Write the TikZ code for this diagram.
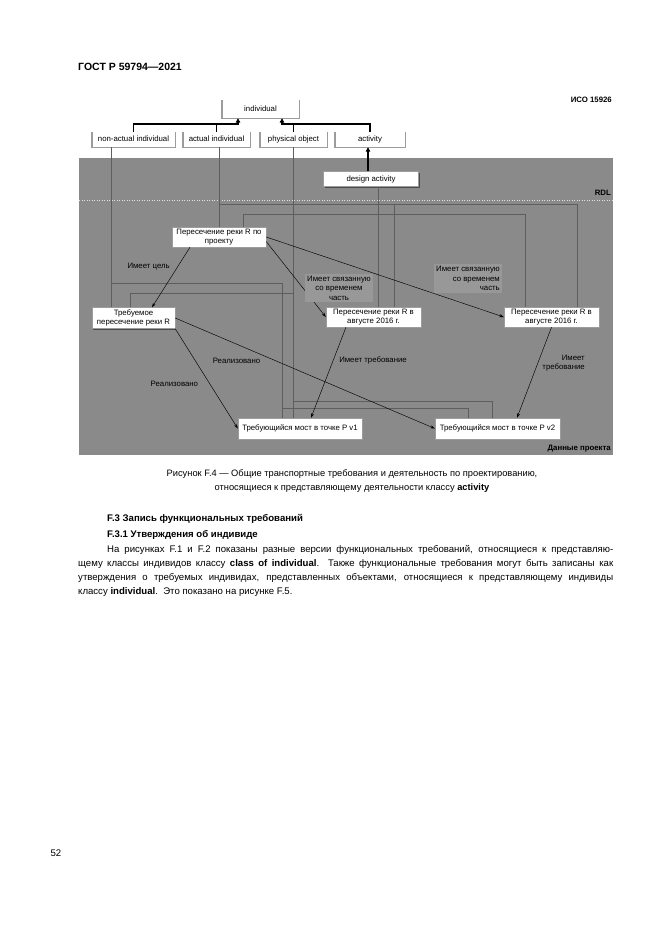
\documentclass[tikz,border=0pt]{standalone}
\usepackage{fontspec}
\setmainfont{Liberation Sans}
\usepackage{xcolor}
\usetikzlibrary{arrows.meta,shadows}

\definecolor{rdlgray}{HTML}{8A8A8A}
\definecolor{linegray}{HTML}{5E5E5E}
\definecolor{edgegray}{HTML}{9C9C9C}
\definecolor{lblgray}{HTML}{989898}

\newcommand{\diagfont}{\fontsize{7.8}{9.6}\selectfont}
\newcommand{\pagefont}{\fontsize{9.6}{14.2}\selectfont}

\begin{document}
\begin{tikzpicture}[x=1pt,y=-1pt,
	rdlclass/.style={fill=white, minimum height=15pt, text height=5.8pt, text depth=1.7pt, font=\diagfont},
	datanode/.style={fill=white, draw=edgegray, line width=0.4pt, align=center, minimum height=20pt, font=\diagfont,
		drop shadow={shadow xshift=1.2pt, shadow yshift=-1.2pt, fill=black, opacity=0.45}},
	topedge/.style={draw=edgegray, line width=1.4pt},
	clsline/.style={draw=linegray, line width=0.45pt},
	sepline/.style={draw=white!75!rdlgray, line width=0.5pt, dotted},
	isa/.style={-{Triangle[length=4.5pt,width=4.5pt]}, line width=1.1pt, black},
	reln/.style={-{Stealth[length=4.5pt,width=3pt]}, line width=0.45pt, black},
	lbl/.style={font=\diagfont, inner sep=1pt}]
	\tikzstyle{every node}+=[inner sep=1pt]
	\useasboundingbox (0,0) rectangle (661,935);
	\fill [white] (0,0) rectangle (661,935);
	\fill [rdlgray] (79,158) rectangle (613,455);
	\draw [sepline] (79,200) -- (613,200);
	% RDL classes
	\node [rdlclass, minimum width=77pt, minimum height=18pt] (individual) at (260.5,109) {individual};
	\node [rdlclass, minimum width=83pt] (nonactual) at (133.5,139.5) {non-actual individual};
	\node [rdlclass, minimum width=67pt] (actual) at (216.5,139.5) {actual individual};
	\node [rdlclass, minimum width=67pt] (physobj) at (293.5,139.5) {physical object};
	\node [rdlclass, minimum width=70pt] (activity) at (370,139.5) {activity};
	\foreach \n in {individual,nonactual,actual,physobj,activity}
		\draw [topedge] (\n.north west) -- (\n.south west) -- (\n.south east) -- (\n.north east);
	\node [datanode, minimum width=95pt, minimum height=15pt] (design) at (371,179) {design activity};
	% project data
	\node [datanode, minimum width=94pt] (proj) at (219,237) {Пересечение реки R по\\проекту};
	\node [datanode, minimum width=83pt, minimum height=21pt] (treb) at (133.5,318) {Требуемое\\пересечение реки R};
	\node [datanode, minimum width=95pt] (augA) at (373.5,317) {Пересечение реки R в\\августе 2016 г.};
	\node [datanode, minimum width=95pt] (augB) at (551.5,317) {Пересечение реки R в\\августе 2016 г.};
	\node [datanode, minimum width=124pt, minimum height=21pt] (bridgeA) at (300,428.5) {Требующийся мост в точке Р v1};
	\node [datanode, minimum width=125pt, minimum height=21pt] (bridgeB) at (497.5,428.5) {Требующийся мост в точке Р v2};
	% specialisation
	\coordinate (jl) at (238,124);
	\coordinate (jr) at (282,124);
	\draw [isa] (nonactual.north) |- (jl) -- (jl |- individual.south);
	\draw [black, line width=1.1pt] (actual.north) -- (actual.north |- jl);
	\draw [isa] (activity.north) |- (jr) -- (jr |- individual.south);
	\draw [black, line width=1.1pt] (physobj.north) -- (physobj.north |- jr);
	\draw [isa] ([xshift=-3pt]design.north) -- ([xshift=-3pt]design.north |- activity.south);
	% classification
	\coordinate (bendB) at (111,283);
	\coordinate (bendD) at (219,204);
	\coordinate (bendG) at (293.5,293);
	\coordinate (bendH) at (293.5,401.7);
	\coordinate (bendI) at (282.5,408);
	\coordinate (bendK) at (525.5,214);
	\draw [clsline] ([xshift=-22.5pt]nonactual.south) -- ([xshift=-22.5pt]nonactual.south |- treb.north);
	\draw [clsline] (bendB) -| ([xshift=-17.5pt]bridgeA.north);
	\draw [clsline] (proj.north |- actual.south) -- (proj.north);
	\draw [clsline] (bendD) -| ([xshift=25.5pt]augB.north);
	\draw [clsline] ([xshift=21pt]augA.north |- bendD) -- ([xshift=21pt]augA.north);
	\draw [clsline] (physobj.south) -- (physobj.south |- bridgeA.north);
	\draw [clsline] ([xshift=-3pt]treb.north) |- (bendG);
	\draw [clsline] (bendH) -| ([xshift=-5.5pt]bridgeB.north);
	\draw [clsline] (bendI) -| ([xshift=-29.5pt]bridgeB.north);
	\draw [clsline] ([xshift=7pt]design.south) -- ([xshift=7pt]design.south |- augA.north);
	\draw [clsline] ([xshift=24.5pt]proj.north) |- (bendK) -- (bendK |- augB.north);
	% relations
	\draw [reln] ([xshift=-29pt]proj.south) -- ([xshift=18.5pt]treb.north);
	\draw [reln] ([yshift=-4.5pt]proj.east) -- (augA.west);
	\draw [reln] (proj.east) -- (augB.west);
	\draw [reln] (treb.south east) -- (bridgeA.west);
	\draw [reln] (treb.east) -- (bridgeB.west);
	\draw [reln] ([xshift=-27.5pt]augA.south) -- ([xshift=11pt]bridgeA.north);
	\draw [reln] (augB.south) -- ([xshift=19.5pt]bridgeB.north);
	\node [lbl] (goal) at (148.6,266.7) {Имеет цель};
	\node [lbl, fill=lblgray, align=center, inner sep=2pt] (tpartA) at (339,288) {Имеет связанную\\со временем\\часть};
	\node [lbl, fill=lblgray, align=right, inner sep=2pt, anchor=east] (tpartB) at (502,278.5) {Имеет связанную\\со временем\\часть};
	\node [lbl] (realA) at (236.5,360.7) {Реализовано};
	\node [lbl] (realB) at (174.4,384) {Реализовано};
	\node [lbl] (reqA) at (373,360) {Имеет требование};
	\node [lbl, align=right, anchor=east] (reqB) at (586,363) {Имеет\\требование};
	\node [lbl, font=\bfseries\diagfont, anchor=east] (rdl) at (612,193) {RDL};
	\node [lbl, font=\bfseries\diagfont, anchor=east] (projdata) at (612,449) {Данные проекта};
	\node [lbl, font=\bfseries\diagfont, anchor=east] (iso) at (613,100) {ИСО 15926};
	% page text
	\node [anchor=west, inner sep=0pt, font=\bfseries\fontsize{10.5}{12}\selectfont] (gost) at (78,67) {ГОСТ Р 59794—2021};
	\node [align=center, font=\fontsize{9.3}{14}\selectfont] (caption) at (352,481) {Рисунок F.4 — Общие транспортные требования и деятельность по проектированию,\\относящиеся к представляющему деятельности классу \textbf{activity}};
	\node [anchor=west, inner sep=0pt, font=\bfseries\pagefont] (secA) at (107,519) {F.3 Запись функциональных требований};
	\node [anchor=west, inner sep=0pt, font=\bfseries\pagefont] (secB) at (107,535) {F.3.1 Утверждения об индивиде};
	\node [anchor=north west, inner sep=0pt, text width=535pt, align=justify, font=\pagefont] (body) at (78,545) {\hspace*{29pt}На рисунках F.1 и F.2 показаны разные версии функциональных требований, относящиеся к представляю-\linebreak щему классы индивидов классу \textbf{class of individual}. Также функциональные требования могут быть записаны как\linebreak утверждения о требуемых индивидах, представленных объектами, относящиеся к представляющему индивиды\linebreak классу \textbf{individual}.\ \ Это показано на рисунке F.5.};
	\node [font=\pagefont] (pagenum) at (56,853) {52};
\end{tikzpicture}
\end{document}
